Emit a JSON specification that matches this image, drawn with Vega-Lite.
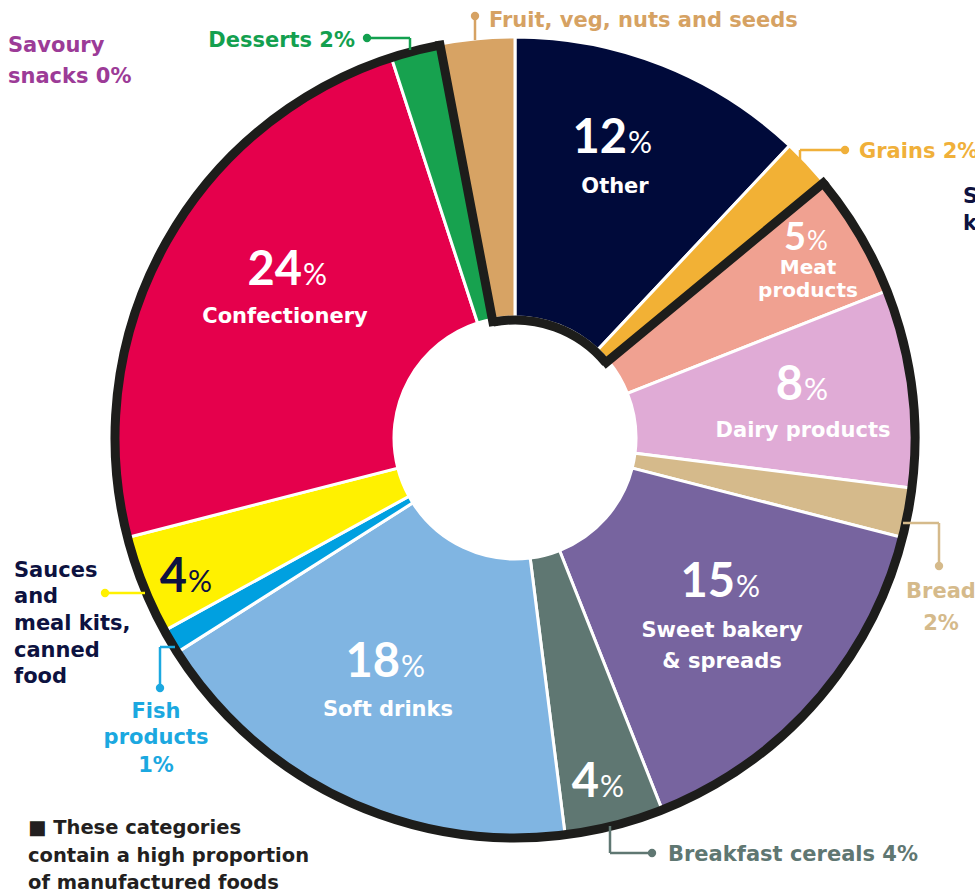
{
  "$schema": "https://vega.github.io/schema/vega-lite/v6.json",
  "width": 975,
  "height": 895,
  "autosize": {"type": "none"},
  "padding": 0,
  "background": "white",
  "config": {"view": {"stroke": null}, "text": {"font": "DejaVu Sans"}},
  "datasets": {
    "slices": [
      {"category": "Other", "value": 12, "order": 1},
      {"category": "Grains", "value": 2, "order": 2},
      {"category": "Meat products", "value": 5, "order": 3},
      {"category": "Dairy products", "value": 8, "order": 4},
      {"category": "Bread", "value": 2, "order": 5},
      {"category": "Sweet bakery & spreads", "value": 15, "order": 6},
      {"category": "Breakfast cereals", "value": 4, "order": 7},
      {"category": "Soft drinks", "value": 18, "order": 8},
      {"category": "Fish products", "value": 1, "order": 9},
      {"category": "Sauces and meal kits, canned food", "value": 4, "order": 10},
      {"category": "Confectionery", "value": 24, "order": 11},
      {"category": "Desserts", "value": 2, "order": 12},
      {"category": "Fruit, veg, nuts and seeds", "value": 3, "order": 13}
    ],
    "outline": [
      {"part": "outer", "t1": 14, "t2": 97, "r1": 1.0, "r2": 1.0},
      {"part": "inner", "t1": 97, "t2": 114, "r1": 0.295, "r2": 0.295},
      {"part": "edge1", "t1": 14, "t2": 14, "r1": 0.285, "r2": 1.011},
      {"part": "edge2", "t1": 97, "t2": 97, "r1": 0.285, "r2": 1.011}
    ],
    "leaders": [
      {"category": "Fruit", "x": -0.1, "y": 1.055, "x2": -0.1, "y2": 0.995},
      {"category": "Desserts", "x": -0.37, "y": 1.0, "x2": -0.2625, "y2": 1.0},
      {"category": "Desserts", "x": -0.2625, "y": 1.0, "x2": -0.2625, "y2": 0.97},
      {"category": "Grains", "x": 0.7125, "y": 0.72, "x2": 0.825, "y2": 0.72},
      {"category": "Grains", "x": 0.7125, "y": 0.72, "x2": 0.7125, "y2": 0.695},
      {"category": "Sauces", "x": -1.025, "y": -0.3875, "x2": -0.925, "y2": -0.3875},
      {"category": "Fish", "x": -0.85, "y": -0.5225, "x2": -0.8875, "y2": -0.5225},
      {"category": "Fish", "x": -0.8875, "y": -0.5225, "x2": -0.8875, "y2": -0.625},
      {"category": "Bread", "x": 0.97, "y": -0.2125, "x2": 1.06, "y2": -0.2125},
      {"category": "Bread", "x": 1.06, "y": -0.2125, "x2": 1.06, "y2": -0.32},
      {"category": "Breakfast", "x": 0.2375, "y": -0.97, "x2": 0.2375, "y2": -1.0375},
      {"category": "Breakfast", "x": 0.2375, "y": -1.0375, "x2": 0.3425, "y2": -1.0375}
    ],
    "dots": [
      {"category": "Fruit", "x": -0.1, "y": 1.055},
      {"category": "Desserts", "x": -0.37, "y": 1.0},
      {"category": "Grains", "x": 0.825, "y": 0.72},
      {"category": "Sauces", "x": -1.025, "y": -0.3875},
      {"category": "Fish", "x": -0.8875, "y": -0.625},
      {"category": "Bread", "x": 1.06, "y": -0.32},
      {"category": "Breakfast", "x": 0.3425, "y": -1.0375}
    ],
    "labelsLeft": [
      {"category": "Fruit", "text": "Fruit, veg, nuts and seeds", "x": -0.065, "y": 1.0275},
      {"category": "Savoury", "text": "Savoury", "x": -1.2675, "y": 0.965},
      {"category": "Savoury", "text": "snacks 0%", "x": -1.2675, "y": 0.8875},
      {"category": "Grains", "text": "Grains 2%", "x": 0.86, "y": 0.7},
      {"category": "S", "text": "S", "x": 1.12, "y": 0.5875},
      {"category": "S", "text": "k", "x": 1.12, "y": 0.52},
      {"category": "Sauces", "text": "Sauces", "x": -1.2525, "y": -0.3475},
      {"category": "Sauces", "text": "and", "x": -1.2525, "y": -0.4125},
      {"category": "Sauces", "text": "meal kits,", "x": -1.2525, "y": -0.48},
      {"category": "Sauces", "text": "canned", "x": -1.2525, "y": -0.5475},
      {"category": "Sauces", "text": "food", "x": -1.2525, "y": -0.6125},
      {"category": "Breakfast", "text": "Breakfast cereals 4%", "x": 0.3825, "y": -1.0575},
      {"category": "Note", "text": "■ These categories", "x": -1.2175, "y": -0.99},
      {"category": "Note", "text": "contain a high proportion", "x": -1.2175, "y": -1.06},
      {"category": "Note", "text": "of manufactured foods", "x": -1.2175, "y": -1.1275}
    ],
    "labelsRight": [
      {"category": "Desserts", "text": "Desserts 2%", "x": -0.4, "y": 0.9775}
    ],
    "labelsCenter": [
      {"category": "Fish", "text": "Fish", "x": -0.8975, "y": -0.7},
      {"category": "Fish", "text": "products", "x": -0.8975, "y": -0.765},
      {"category": "Fish", "text": "1%", "x": -0.8975, "y": -0.835},
      {"category": "Bread", "text": "Bread", "x": 1.065, "y": -0.4},
      {"category": "Bread", "text": "2%", "x": 1.065, "y": -0.48}
    ],
    "nums": [
      {"category": "Other", "num": "12", "x": 0.28, "y": 0.7125},
      {"category": "Meat products", "num": "5", "x": 0.7275, "y": 0.47},
      {"category": "Dairy products", "num": "8", "x": 0.72, "y": 0.095},
      {"category": "Sweet bakery & spreads", "num": "15", "x": 0.55, "y": -0.3975},
      {"category": "Breakfast cereals", "num": "4", "x": 0.21, "y": -0.8975},
      {"category": "Soft drinks", "num": "18", "x": -0.2875, "y": -0.5975},
      {"category": "Sauces and meal kits, canned food", "num": "4", "x": -0.82, "y": -0.385},
      {"category": "Confectionery", "num": "24", "x": -0.5325, "y": 0.3825}
    ],
    "names": [
      {"category": "Other", "text": "Other", "x": 0.25, "y": 0.6125},
      {"category": "Meat products", "text": "Meat", "x": 0.7325, "y": 0.41},
      {"category": "Meat products", "text": "products", "x": 0.7325, "y": 0.3525},
      {"category": "Dairy products", "text": "Dairy products", "x": 0.72, "y": 0.0025},
      {"category": "Sweet bakery & spreads", "text": "Sweet bakery", "x": 0.5175, "y": -0.4975},
      {"category": "Sweet bakery & spreads", "text": "& spreads", "x": 0.5175, "y": -0.575},
      {"category": "Soft drinks", "text": "Soft drinks", "x": -0.3175, "y": -0.695},
      {"category": "Confectionery", "text": "Confectionery", "x": -0.575, "y": 0.2875}
    ]
  },
  "resolve": {"scale": {"color": "independent"}},
  "layer": [
    {
      "data": {"name": "slices"},
      "mark": {"type": "arc", "radius": 401, "radius2": 121, "stroke": "white", "strokeWidth": 3},
      "encoding": {
        "x": {"datum": 0, "type": "quantitative", "scale": {"domain": [-1.2875, 1.15], "nice": false, "zero": false}, "axis": null},
        "y": {"datum": 0, "type": "quantitative", "scale": {"domain": [-1.1425, 1.095], "nice": false, "zero": false}, "axis": null},
        "theta": {"field": "value", "type": "quantitative", "stack": true, "scale": {"domain": [0, 100], "range": [0, 6.283185307]}},
        "order": {"field": "order", "type": "quantitative"},
        "color": {
          "field": "category", "type": "nominal", "legend": null,
          "scale": {
            "domain": ["Other", "Grains", "Meat products", "Dairy products", "Bread", "Sweet bakery & spreads", "Breakfast cereals", "Soft drinks", "Fish products", "Sauces and meal kits, canned food", "Confectionery", "Desserts", "Fruit, veg, nuts and seeds"],
            "range": ["#000a3a", "#f2b135", "#f0a191", "#e0abd6", "#d5ba8b", "#77649f", "#5f7772", "#80b5e2", "#00a0e0", "#fff100", "#e5004c", "#17a24f", "#d7a364"]
          }
        }
      }
    },
    {
      "data": {"name": "outline"},
      "mark": {"type": "arc", "fillOpacity": 0, "stroke": "#1d1d1b", "strokeWidth": 9, "strokeJoin": "miter"},
      "encoding": {
        "x": {"datum": 0, "type": "quantitative", "scale": {"domain": [-1.2875, 1.15], "nice": false, "zero": false}, "axis": null},
        "y": {"datum": 0, "type": "quantitative", "scale": {"domain": [-1.1425, 1.095], "nice": false, "zero": false}, "axis": null},
        "theta": {"field": "t1", "type": "quantitative", "stack": null, "scale": {"domain": [0, 100], "range": [0, 6.283185307]}},
        "theta2": {"field": "t2"},
        "radius": {"field": "r1", "type": "quantitative", "scale": {"type": "linear", "domain": [0, 1], "range": [0, 400], "zero": true}},
        "radius2": {"field": "r2"}
      }
    },
    {
      "data": {"name": "leaders"},
      "mark": {"type": "rule", "strokeWidth": 2.5},
      "encoding": {
        "x": {"field": "x", "type": "quantitative", "scale": {"domain": [-1.2875, 1.15], "nice": false, "zero": false}, "axis": null},
        "y": {"field": "y", "type": "quantitative", "scale": {"domain": [-1.1425, 1.095], "nice": false, "zero": false}, "axis": null},
        "x2": {"field": "x2"},
        "y2": {"field": "y2"},
        "color": {
          "field": "category", "type": "nominal", "legend": null,
          "scale": {
            "domain": ["Fruit", "Desserts", "Savoury", "Grains", "S", "Sauces", "Fish", "Bread", "Breakfast", "Note"],
            "range": ["#d6a263", "#13a04f", "#9c3b97", "#f0b03a", "#0d1240", "#fff100", "#1ba8e0", "#d5ba8b", "#5f7772", "#231f20"]
          }
        }
      }
    },
    {
      "data": {"name": "dots"},
      "mark": {"type": "point", "filled": true, "size": 70, "opacity": 1},
      "encoding": {
        "x": {"field": "x", "type": "quantitative", "scale": {"domain": [-1.2875, 1.15], "nice": false, "zero": false}, "axis": null},
        "y": {"field": "y", "type": "quantitative", "scale": {"domain": [-1.1425, 1.095], "nice": false, "zero": false}, "axis": null},
        "color": {
          "field": "category", "type": "nominal", "legend": null,
          "scale": {
            "domain": ["Fruit", "Desserts", "Savoury", "Grains", "S", "Sauces", "Fish", "Bread", "Breakfast", "Note"],
            "range": ["#d6a263", "#13a04f", "#9c3b97", "#f0b03a", "#0d1240", "#fff100", "#1ba8e0", "#d5ba8b", "#5f7772", "#231f20"]
          }
        }
      }
    },
    {
      "data": {"name": "labelsLeft"},
      "mark": {"type": "text", "align": "left", "baseline": "alphabetic", "fontWeight": "bold"},
      "encoding": {
        "x": {"field": "x", "type": "quantitative", "scale": {"domain": [-1.2875, 1.15], "nice": false, "zero": false}, "axis": null},
        "y": {"field": "y", "type": "quantitative", "scale": {"domain": [-1.1425, 1.095], "nice": false, "zero": false}, "axis": null},
        "text": {"field": "text"},
        "size": {"condition": {"test": "datum.category === 'Note'", "value": 19.5}, "value": 21},
        "color": {
          "field": "category", "type": "nominal", "legend": null,
          "scale": {
            "domain": ["Fruit", "Desserts", "Savoury", "Grains", "S", "Sauces", "Fish", "Bread", "Breakfast", "Note"],
            "range": ["#d6a263", "#13a04f", "#9c3b97", "#f0b03a", "#0d1240", "#0d1240", "#1ba8e0", "#d5ba8b", "#5f7772", "#231f20"]
          }
        }
      }
    },
    {
      "data": {"name": "labelsRight"},
      "mark": {"type": "text", "align": "right", "baseline": "alphabetic", "fontWeight": "bold", "fontSize": 21},
      "encoding": {
        "x": {"field": "x", "type": "quantitative", "scale": {"domain": [-1.2875, 1.15], "nice": false, "zero": false}, "axis": null},
        "y": {"field": "y", "type": "quantitative", "scale": {"domain": [-1.1425, 1.095], "nice": false, "zero": false}, "axis": null},
        "text": {"field": "text"},
        "color": {
          "field": "category", "type": "nominal", "legend": null,
          "scale": {"domain": ["Desserts"], "range": ["#13a04f"]}
        }
      }
    },
    {
      "data": {"name": "labelsCenter"},
      "mark": {"type": "text", "align": "center", "baseline": "alphabetic", "fontWeight": "bold", "fontSize": 21},
      "encoding": {
        "x": {"field": "x", "type": "quantitative", "scale": {"domain": [-1.2875, 1.15], "nice": false, "zero": false}, "axis": null},
        "y": {"field": "y", "type": "quantitative", "scale": {"domain": [-1.1425, 1.095], "nice": false, "zero": false}, "axis": null},
        "text": {"field": "text"},
        "color": {
          "field": "category", "type": "nominal", "legend": null,
          "scale": {"domain": ["Fish", "Bread"], "range": ["#1ba8e0", "#d5ba8b"]}
        }
      }
    },
    {
      "data": {"name": "nums"},
      "mark": {"type": "text", "align": "right", "baseline": "alphabetic", "fontWeight": "bold", "font": "Lato"},
      "encoding": {
        "x": {"field": "x", "type": "quantitative", "scale": {"domain": [-1.2875, 1.15], "nice": false, "zero": false}, "axis": null},
        "y": {"field": "y", "type": "quantitative", "scale": {"domain": [-1.1425, 1.095], "nice": false, "zero": false}, "axis": null},
        "text": {"field": "num"},
        "size": {"condition": {"test": "datum.category === 'Meat products'", "value": 38}, "value": 47},
        "color": {"condition": {"test": "indexof(datum.category, 'Sauces') === 0", "value": "#0d1240"}, "value": "white"}
      }
    },
    {
      "data": {"name": "nums"},
      "mark": {"type": "text", "align": "left", "baseline": "alphabetic", "fontWeight": "normal", "font": "Lato", "dx": 1},
      "encoding": {
        "x": {"field": "x", "type": "quantitative", "scale": {"domain": [-1.2875, 1.15], "nice": false, "zero": false}, "axis": null},
        "y": {"field": "y", "type": "quantitative", "scale": {"domain": [-1.1425, 1.095], "nice": false, "zero": false}, "axis": null},
        "text": {"value": "%"},
        "size": {"condition": {"test": "datum.category === 'Meat products'", "value": 26}, "value": 30},
        "color": {"condition": {"test": "indexof(datum.category, 'Sauces') === 0", "value": "#0d1240"}, "value": "white"}
      }
    },
    {
      "data": {"name": "names"},
      "mark": {"type": "text", "align": "center", "baseline": "alphabetic", "fontWeight": "bold", "color": "white"},
      "encoding": {
        "x": {"field": "x", "type": "quantitative", "scale": {"domain": [-1.2875, 1.15], "nice": false, "zero": false}, "axis": null},
        "y": {"field": "y", "type": "quantitative", "scale": {"domain": [-1.1425, 1.095], "nice": false, "zero": false}, "axis": null},
        "text": {"field": "text"},
        "size": {"condition": {"test": "datum.category === 'Meat products'", "value": 20}, "value": 21}
      }
    }
  ]
}
